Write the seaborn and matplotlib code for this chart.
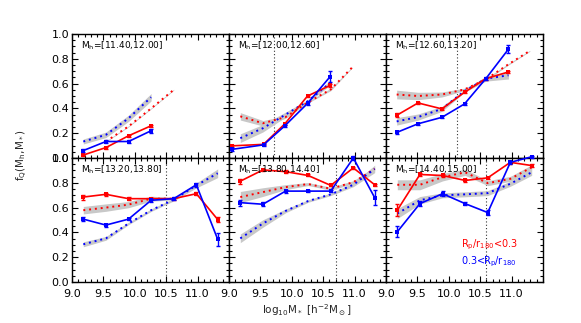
import numpy as np
import pandas as pd
import matplotlib
matplotlib.use("Agg")
import matplotlib.pyplot as plt
from matplotlib.ticker import MultipleLocator, FixedLocator, FixedFormatter
import seaborn as sns

# ---------------- data ----------------
panel_labels = ["[11.40,12.00]", "[12.00,12.60]", "[12.60,13.20]",
                "[13.20,13.80]", "[13.80,14.40]", "[14.40,15.00]"]
vlines = [None, 9.72, 10.13, 10.50, 10.70, 10.60]

x_std = [9.18, 9.54, 9.90, 10.26, 10.62, 10.98, 11.32]

# solid (data) x positions
xs_p1 = [9.18, 9.54, 9.90, 10.26]
xs_p2 = [9.05, 9.55, 9.89, 10.25, 10.61]
xs_p3 = [9.17, 9.51, 9.89, 10.25, 10.59, 10.95]

red_p1 = [0.024, 0.084, 0.179, 0.260]
blue_p1 = [0.060, 0.133, 0.133, 0.220]
red_p2 = [0.098, 0.110, 0.276, 0.500, 0.585]
blue_p2 = [0.070, 0.106, 0.260, 0.440, 0.656]
red_p3 = [0.344, 0.444, 0.396, 0.530, 0.640, 0.694]
blue_p3 = [0.206, 0.276, 0.328, 0.436, 0.640, 0.878]
red_p4 = [0.685, 0.707, 0.672, 0.672, 0.672, 0.712, 0.504]
blue_p4 = [0.507, 0.459, 0.507, 0.659, 0.672, 0.784, 0.344]
red_p5 = [0.813, 0.904, 0.890, 0.859, 0.779, 0.920, 0.784]
blue_p5 = [0.640, 0.627, 0.733, 0.733, 0.733, 1.000, 0.680]
red_p6 = [0.579, 0.867, 0.859, 0.819, 0.840, 0.965, 0.939]
blue_p6 = [0.405, 0.632, 0.712, 0.632, 0.560, 0.965, 1.010]

red_err_p1 = [0.010, 0.008, 0.008, 0.010]
blue_err_p1 = [0.015, 0.012, 0.012, 0.015]
red_err_p2 = [0.010, 0.008, 0.008, 0.010, 0.015]
blue_err_p2 = [0.012, 0.008, 0.008, 0.010, 0.045]
red_err_p3 = [0.015, 0.010, 0.010, 0.008, 0.008, 0.010]
blue_err_p3 = [0.012, 0.008, 0.008, 0.008, 0.010, 0.030]
red_err_p4 = [0.020, 0.012, 0.010, 0.008, 0.008, 0.010, 0.020]
blue_err_p4 = [0.015, 0.012, 0.010, 0.010, 0.010, 0.015, 0.050]
red_err_p5 = [0.020, 0.010, 0.010, 0.008, 0.008, 0.010, 0.010]
blue_err_p5 = [0.025, 0.015, 0.012, 0.010, 0.010, 0.015, 0.060]
red_err_p6 = [0.050, 0.015, 0.012, 0.010, 0.010, 0.010, 0.010]
blue_err_p6 = [0.045, 0.020, 0.020, 0.012, 0.020, 0.010, 0.010]

# dotted (model) lines
xd_red_p1 = [9.54, 9.90, 10.26, 10.62]
red_dot_p1 = [0.133, 0.255, 0.400, 0.550]
xd_blue_p1 = [9.18, 9.54, 9.90, 10.26]
blue_dot_p1 = [0.133, 0.187, 0.320, 0.490]
xd_red_p2 = [9.18, 9.54, 9.90, 10.26, 10.62, 10.96]
red_dot_p2 = [0.336, 0.280, 0.330, 0.450, 0.553, 0.730]
xd_blue_p2 = [9.18, 9.54, 9.90, 10.26, 10.62]
blue_dot_p2 = [0.160, 0.240, 0.350, 0.460, 0.610]
xd_red_p3 = [9.17, 9.51, 9.89, 10.25, 10.59, 10.95, 11.29]
red_dot_p3 = [0.512, 0.500, 0.512, 0.553, 0.634, 0.756, 0.864]
xd_blue_p3 = [9.17, 9.51, 9.89, 10.25, 10.59, 10.95]
blue_dot_p3 = [0.295, 0.330, 0.396, 0.540, 0.640, 0.667]
red_dot_p4 = [0.579, 0.600, 0.624, 0.672, 0.672]
blue_dot_p4 = [0.304, 0.352, 0.472, 0.579, 0.664, 0.779, 0.877]
red_dot_p5 = [0.685, 0.725, 0.765, 0.790, 0.752, 0.805, 0.912]
blue_dot_p5 = [0.352, 0.472, 0.573, 0.653, 0.707, 0.784, 0.912]
red_dot_p6 = [0.784, 0.784, 0.845, 0.885, 0.797, 0.832, 0.925]
blue_dot_p6 = [0.552, 0.659, 0.699, 0.707, 0.717, 0.792, 0.885]

# half-widths of grey bands round the dotted lines
red_band_p1 = [0.004, 0.004, 0.004, 0.004]
blue_band_p1 = [0.020, 0.022, 0.025, 0.030]
red_band_p2 = [0.030, 0.022, 0.010, 0.006, 0.010, 0.004]
blue_band_p2 = [0.035, 0.030, 0.020, 0.010, 0.020]
red_band_p3 = [0.035, 0.030, 0.020, 0.010, 0.008, 0.006, 0.004]
blue_band_p3 = [0.030, 0.025, 0.020, 0.010, 0.020, 0.030]
red_band_p4 = [0.030, 0.030, 0.025, 0.020, 0.010]
blue_band_p4 = [0.020, 0.015, 0.010, 0.010, 0.010, 0.020, 0.035]
red_band_p5 = [0.045, 0.035, 0.020, 0.012, 0.012, 0.012, 0.015]
blue_band_p5 = [0.035, 0.030, 0.015, 0.010, 0.010, 0.015, 0.030]
red_band_p6 = [0.040, 0.040, 0.030, 0.025, 0.020, 0.020, 0.020]
blue_band_p6 = [0.040, 0.030, 0.020, 0.020, 0.020, 0.020, 0.025]

panels = [
    dict(xs=xs_p1, red=red_p1, blue=blue_p1, rerr=red_err_p1, berr=blue_err_p1,
         xdr=xd_red_p1, rd=red_dot_p1, rb=red_band_p1, xdb=xd_blue_p1, bd=blue_dot_p1, bb=blue_band_p1),
    dict(xs=xs_p2, red=red_p2, blue=blue_p2, rerr=red_err_p2, berr=blue_err_p2,
         xdr=xd_red_p2, rd=red_dot_p2, rb=red_band_p2, xdb=xd_blue_p2, bd=blue_dot_p2, bb=blue_band_p2),
    dict(xs=xs_p3, red=red_p3, blue=blue_p3, rerr=red_err_p3, berr=blue_err_p3,
         xdr=xd_red_p3, rd=red_dot_p3, rb=red_band_p3, xdb=xd_blue_p3, bd=blue_dot_p3, bb=blue_band_p3),
    dict(xs=x_std, red=red_p4, blue=blue_p4, rerr=red_err_p4, berr=blue_err_p4,
         xdr=x_std[:5], rd=red_dot_p4, rb=red_band_p4, xdb=x_std, bd=blue_dot_p4, bb=blue_band_p4),
    dict(xs=x_std, red=red_p5, blue=blue_p5, rerr=red_err_p5, berr=blue_err_p5,
         xdr=x_std, rd=red_dot_p5, rb=red_band_p5, xdb=x_std, bd=blue_dot_p5, bb=blue_band_p5),
    dict(xs=x_std, red=red_p6, blue=blue_p6, rerr=red_err_p6, berr=blue_err_p6,
         xdr=x_std, rd=red_dot_p6, rb=red_band_p6, xdb=x_std, bd=blue_dot_p6, bb=blue_band_p6),
]

xtick_vals = [9.0, 9.5, 10.0, 10.5, 11.0, 11.5]
xtick_text = ["9.0", "9.5", "10.0", "10.5", "11.0", ""]
ytick_vals = [0.0, 0.2, 0.4, 0.6, 0.8, 1.0]
ytick_text = ["0.0", "0.2", "0.4", "0.6", "0.8", "1.0"]

# ---------------- drawing ----------------
sns.set_theme(style="ticks")
plt.rcParams['font.family'] = ['DejaVu Sans']
plt.rcParams['mathtext.fontset'] = 'dejavusans'

W, H = 581, 323
fig = plt.figure(figsize=(W / 100, H / 100), dpi=100)
fig.patch.set_facecolor('white')

RED = '#ff0000'
BLUE = '#0000ff'
GREY = '#c8c8c8'
dot_style = (0, (1, 2))

x_left, pw = 72, 157
row_tops = [34, 158]
ph = 124

for i, p in enumerate(panels):
    r, c = divmod(i, 3)
    x0 = x_left + c * pw
    y0 = row_tops[r]
    ax = fig.add_axes([x0 / W, 1 - (y0 + ph) / H, pw / W, ph / H])
    ax.set_facecolor('white')

    # grey bands
    ax.fill_between(p['xdr'], np.array(p['rd']) - np.array(p['rb']),
                    np.array(p['rd']) + np.array(p['rb']), color=GREY, lw=0, zorder=1)
    ax.fill_between(p['xdb'], np.array(p['bd']) - np.array(p['bb']),
                    np.array(p['bd']) + np.array(p['bb']), color=GREY, lw=0, zorder=1)

    # dotted model lines
    sns.lineplot(x=p['xdr'], y=p['rd'], ax=ax, color=RED, lw=1.4,
                 linestyle=dot_style, zorder=2, sort=False)
    sns.lineplot(x=p['xdb'], y=p['bd'], ax=ax, color=BLUE, lw=1.4,
                 linestyle=dot_style, zorder=2, sort=False)

    # solid data lines
    for vals, errs, col in [(p['red'], p['rerr'], RED), (p['blue'], p['berr'], BLUE)]:
        sns.lineplot(x=p['xs'], y=vals, ax=ax, color=col, lw=1.2, marker='s',
                     markersize=2.5, markeredgewidth=0, zorder=3, sort=False)
        ax.errorbar(p['xs'], vals, yerr=errs, fmt='none', ecolor=col,
                    elinewidth=1.0, capsize=1.5, capthick=1.0, zorder=3)
    for ln in ax.lines:
        ln.set_clip_on(False)

    if vlines[i] is not None:
        ax.axvline(vlines[i], color='#333333', lw=0.8, linestyle=(0, (1, 2)), zorder=0)

    ax.set_xlim(9.0, 11.5)
    ax.set_ylim(0.0, 1.0)
    ax.xaxis.set_major_locator(FixedLocator(xtick_vals))
    ax.xaxis.set_minor_locator(MultipleLocator(0.1))
    ax.yaxis.set_major_locator(FixedLocator(ytick_vals))
    ax.yaxis.set_minor_locator(MultipleLocator(0.05))
    ax.tick_params(which='both', direction='in', top=True, right=True,
                   colors='black', labelsize=8, width=0.8)
    ax.tick_params(axis='x', pad=5)
    ax.tick_params(axis='y', pad=2)
    ax.tick_params(which='major', length=4)
    ax.tick_params(which='minor', length=2)
    if r == 1:
        ax.xaxis.set_major_formatter(FixedFormatter(xtick_text))
    else:
        ax.set_xticklabels([])
    if c == 0:
        ax.yaxis.set_major_formatter(FixedFormatter(ytick_text))
    else:
        ax.set_yticklabels([])
    ax.set_xlabel('')
    ax.set_ylabel('')
    for s in ax.spines.values():
        s.set_color('black')
        s.set_linewidth(1.0)

    ax.text(0.06, 0.955, r'M$_{\rm h}$=' + panel_labels[i], transform=ax.transAxes,
            fontsize=6.5, ha='left', va='top', color='black')

    if i == 5:
        ax.text(0.48, 0.30, r'R$_{\rm p}$/r$_{180}$<0.3', transform=ax.transAxes,
                fontsize=7, color=RED, ha='left', va='center')
        ax.text(0.48, 0.165, r'0.3<R$_{\rm p}$/r$_{180}$', transform=ax.transAxes,
                fontsize=7, color=BLUE, ha='left', va='center')

fig.text(22 / W, 1 - 155 / H, r'f$_{\rm Q}$(M$_{\rm h}$,M$_*$)', rotation=90,
         ha='center', va='center', fontsize=7.5)
fig.text(307 / W, 1 - 310 / H, r'log$_{10}$M$_*$ [h$^{-2}$M$_\odot$]',
         ha='center', va='center', fontsize=7.5)

fig.savefig('out.png', dpi=100, facecolor='white')
